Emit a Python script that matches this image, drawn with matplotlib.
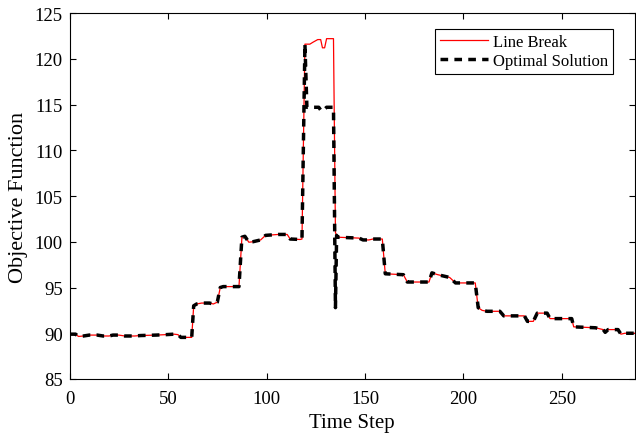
import matplotlib
matplotlib.use("Agg")
import matplotlib.pyplot as plt
import numpy as np

# vertices (time step, objective value)
pre_t = [0, 3, 4.5, 7, 10, 14, 17, 20, 22, 25, 28, 33, 36, 44, 49, 53, 55, 56.5, 62,
         63, 64.5, 67, 71, 73, 75, 76.5, 78, 86, 87.5, 89, 91, 93, 97, 99.5, 106,
         110.5, 112, 117, 118]
pre_v = [89.9, 89.9, 89.65, 89.7, 89.8, 89.8, 89.7, 89.7, 89.8, 89.8, 89.7, 89.7,
         89.75, 89.8, 89.85, 89.9, 89.85, 89.55, 89.55, 93.0, 93.2, 93.3, 93.3, 93.2,
         93.4, 95.0, 95.1, 95.1, 100.5, 100.6, 99.95, 100.0, 100.2, 100.7, 100.8,
         100.8, 100.3, 100.25, 100.3]

break_peak_t = [119.5, 122, 123.5, 126, 127.5, 128.4, 129.5, 130.5, 134, 135]
break_peak_v = [121.6, 121.6, 121.8, 122.1, 122.1, 121.2, 121.2, 122.2, 122.2, 101.0]

opt_peak_t = [119.5, 120.5, 126.5, 127.5, 128.5, 129.5, 130.5, 134, 135, 135.6]
opt_peak_v = [121.6, 114.7, 114.7, 114.4, 114.3, 114.5, 114.7, 114.7, 92.8, 100.7]

post_t = [136, 147, 149, 152, 154, 158.8, 160.3, 169.5, 171.5, 182.5, 184, 187, 193,
          196, 206, 207.5, 209.5, 212, 218.5, 220.5, 231, 232.5, 235.5, 237.5, 242.5,
          244, 255, 256, 267, 271, 272, 273.5, 278.5, 280, 282, 287]
post_v = [100.5, 100.4, 100.2, 100.2, 100.3, 100.3, 96.5, 96.4, 95.6, 95.6, 96.6,
          96.4, 96.1, 95.5, 95.5, 92.8, 92.5, 92.4, 92.4, 91.9, 91.9, 91.3, 91.3,
          92.2, 92.2, 91.6, 91.6, 90.7, 90.6, 90.4, 90.1, 90.4, 90.4, 89.9, 90.0, 90.0]

x_ticks = [0, 50, 100, 150, 200, 250]
y_ticks = [85, 90, 95, 100, 105, 110, 115, 120, 125]

break_t = np.array(pre_t + break_peak_t + post_t)
break_v = np.array(pre_v + break_peak_v + post_v)
opt_t = np.array(pre_t + opt_peak_t + post_t)
opt_v = np.array(pre_v + opt_peak_v + post_v)

plt.rcParams["font.family"] = ["Liberation Serif", "DejaVu Serif"]

fig = plt.figure(figsize=(6.36, 4.39), dpi=100)
ax = fig.add_axes([0.1095, 0.1344, 0.8885, 0.8336])

ax.plot(break_t, break_v, color="#ff0000", lw=0.9, label="Line Break")
ax.plot(opt_t, opt_v, color="black", lw=2.5, ls=(0, (2.2, 1.8)),
        label="Optimal Solution")

ax.set_xlim(0, 287)
ax.set_ylim(85, 125)
ax.set_xticks(x_ticks)
ax.set_yticks(y_ticks)
ax.tick_params(direction="in", length=4, width=0.8, top=True, right=True,
               labelsize=13.5)
ax.tick_params(axis="x", pad=8)
ax.tick_params(axis="y", pad=5)
for sp in ax.spines.values():
    sp.set_linewidth(0.8)
ax.set_xlabel("Time Step", fontsize=15, labelpad=4)
ax.set_ylabel("Objective Function", fontsize=16, labelpad=5)

leg = ax.legend(loc="upper right", bbox_to_anchor=(0.961, 0.956), borderaxespad=0,
                fontsize=12, fancybox=False, framealpha=1, edgecolor="black",
                handlelength=2.9, handletextpad=0.25, borderpad=0.3,
                labelspacing=0.15)
leg.get_frame().set_linewidth(0.8)

fig.savefig("out.png", dpi=100)
